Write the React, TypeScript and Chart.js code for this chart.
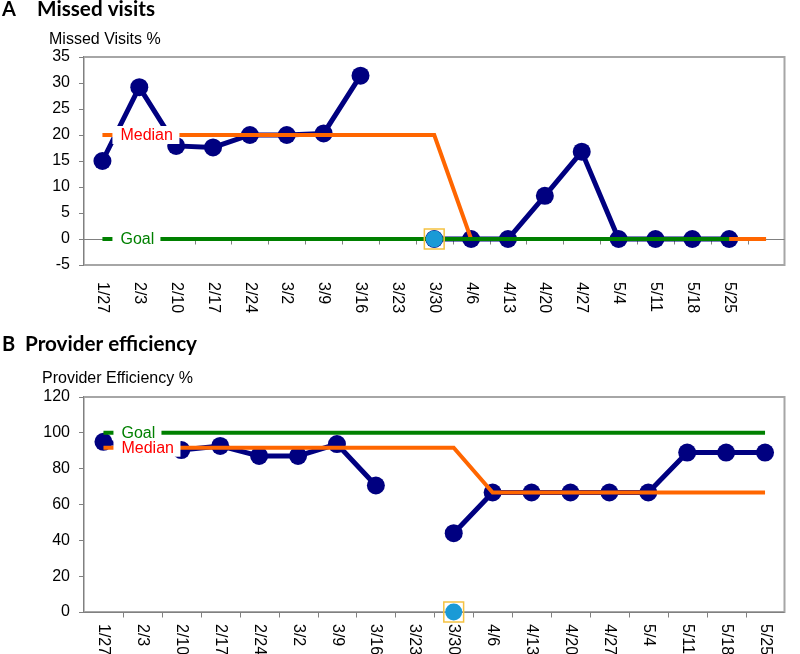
import React, { useEffect, useRef } from "react";
import { Chart, registerables } from "chart.js";
Chart.register(...registerables);

// ---------- Panel A: Missed visits ----------
const weeksA = ["1/27", "2/3", "2/10", "2/17", "2/24", "3/2", "3/9", "3/16", "3/23", "3/30", "4/6", "4/13", "4/20", "4/27", "5/4", "5/11", "5/18", "5/25", ""];
const missedVisits = [15, 29.2, 17.9, 17.6, 20, 20, 20.3, 31.4, null, 0, 0, 0, 8.3, 16.8, 0, 0, 0, 0, null];
const missedMedian = [20, 20, 20, 20, 20, 20, 20, 20, 20, 20, 0, 0, 0, 0, 0, 0, 0, 0, 0];
const missedGoal = [0, 0, 0, 0, 0, 0, 0, 0, 0, 0, 0, 0, 0, 0, 0, 0, 0, 0, null];
const missedEvent = [null, null, null, null, null, null, null, null, null, 0, null, null, null, null, null, null, null, null, null];
const missedTicks = [-5, 0, 5, 10, 15, 20, 25, 30, 35];

// ---------- Panel B: Provider efficiency ----------
const weeksB = ["1/27", "2/3", "2/10", "2/17", "2/24", "3/2", "3/9", "3/16", "3/23", "3/30", "4/6", "4/13", "4/20", "4/27", "5/4", "5/11", "5/18", "5/25"];
const efficiency = [95, 92, 90.4, 92.7, 87.1, 87.1, 93.7, 70.6, null, 44, 66.7, 66.7, 66.7, 66.7, 66.7, 89, 89, 89];
const effMedian = [91.7, 91.7, 91.7, 91.7, 91.7, 91.7, 91.7, 91.7, 91.7, 91.7, 66.7, 66.7, 66.7, 66.7, 66.7, 66.7, 66.7, 66.7];
const effGoal = [100, 100, 100, 100, 100, 100, 100, 100, 100, 100, 100, 100, 100, 100, 100, 100, 100, 100];
const effEvent = [null, null, null, null, null, null, null, null, null, 0, null, null, null, null, null, null, null, null];
const effTicks = [0, 20, 40, 60, 80, 100, 120];

const NAVY = "#000080";
const ORANGE = "#ff6600";
const GREEN = "#008000";
const ARIAL = '"Liberation Sans", Arial, sans-serif';
const TITLE_FONT = 'bold 20px Lato, "Open Sans", sans-serif';

type Tag = { text: string; color: string; value: number; boxW: number };
type DecorCfg = {
  labels: string[];
  labelGap: number;
  axisAt: number;
  tags: Tag[];
  letter: string;
  title: string;
  titleX: number;
  titleW: number;
  titleBaseline: number;
  yTitle: string;
  yTitleX: number;
  yTitleBaseline: number;
};

function decor(cfg: DecorCfg) {
  return {
    id: "decor",
    beforeDatasetsDraw(chart: any) {
      const { ctx, chartArea } = chart;
      const { left, right, top, bottom } = chartArea;
      const xs = chart.scales.x;
      const ys = chart.scales.y;
      ctx.save();
      ctx.strokeStyle = "#a6a6a6";
      ctx.lineWidth = 2;
      ctx.beginPath();
      ctx.moveTo(left, top);
      ctx.lineTo(right, top);
      ctx.lineTo(right, bottom);
      ctx.lineTo(left, bottom);
      ctx.stroke();
      const y0 = Math.round(ys.getPixelForValue(cfg.axisAt)) + 0.5;
      ctx.strokeStyle = "#808080";
      ctx.lineWidth = 1;
      ctx.beginPath();
      ctx.moveTo(left, y0);
      ctx.lineTo(right, y0);
      const n = cfg.labels.length;
      for (let i = 1; i < n; i++) {
        const bx = Math.round((xs.getPixelForValue(i - 1) + xs.getPixelForValue(i)) / 2) + 0.5;
        ctx.moveTo(bx, y0);
        ctx.lineTo(bx, y0 + 5);
      }
      ctx.stroke();
      ctx.restore();
    },
    afterDatasetsDraw(chart: any) {
      const { ctx } = chart;
      const xs = chart.scales.x;
      const ys = chart.scales.y;
      const x0 = xs.getPixelForValue(0);
      ctx.save();
      cfg.tags.forEach((t) => {
        const yy = ys.getPixelForValue(t.value);
        ctx.fillStyle = "#ffffff";
        ctx.fillRect(x0 + 10, yy - 9, t.boxW, 18);
      });
      ctx.font = "16px " + ARIAL;
      ctx.textBaseline = "middle";
      ctx.textAlign = "left";
      cfg.tags.forEach((t) => {
        const yy = ys.getPixelForValue(t.value);
        ctx.fillStyle = t.color;
        ctx.fillText(t.text, x0 + 18, yy + 1);
      });
      ctx.restore();
    },
    afterDraw(chart: any) {
      const { ctx, chartArea } = chart;
      const xs = chart.scales.x;
      ctx.save();
      ctx.fillStyle = "#000";
      ctx.font = "16px " + ARIAL;
      ctx.textAlign = "left";
      ctx.textBaseline = "middle";
      cfg.labels.forEach((l, i) => {
        if (!l) return;
        const xx = xs.getPixelForValue(i);
        ctx.save();
        ctx.translate(xx, chartArea.bottom + cfg.labelGap);
        ctx.rotate(Math.PI / 2);
        ctx.fillText(l, 0, 0);
        ctx.restore();
      });
      // axis title
      ctx.textBaseline = "alphabetic";
      ctx.fillText(cfg.yTitle, cfg.yTitleX, cfg.yTitleBaseline);
      // panel title
      ctx.font = TITLE_FONT;
      ctx.fillText(cfg.letter, 2, cfg.titleBaseline);
      const m = ctx.measureText(cfg.title).width;
      ctx.translate(cfg.titleX, cfg.titleBaseline);
      ctx.scale(cfg.titleW / m, 1);
      ctx.fillText(cfg.title, 0, 0);
      ctx.restore();
    },
  };
}

function buildChart(
  canvas: HTMLCanvasElement,
  labels: string[],
  main: (number | null)[],
  median: (number | null)[],
  goal: (number | null)[],
  event: (number | null)[],
  ticks: number[],
  padTop: number,
  xHeight: number,
  cfg: DecorCfg
) {
  return new Chart(canvas, {
    type: "line",
    data: {
      labels,
      datasets: [
        {
          data: event,
          showLine: false,
          pointStyle: "rect",
          pointRadius: 14,
          pointBackgroundColor: "rgba(0,0,0,0)",
          pointBorderColor: "#f5c242",
          pointBorderWidth: 1.5,
          order: 0,
          clip: false,
        } as any,
        {
          data: event,
          showLine: false,
          pointStyle: "circle",
          pointRadius: 8.5,
          pointBackgroundColor: "#1a9ad6",
          pointBorderWidth: 0,
          order: 1,
          clip: false,
        },
        { data: goal, borderColor: GREEN, borderWidth: 4, pointRadius: 0, order: 2, clip: false },
        { data: median, borderColor: ORANGE, borderWidth: 4, pointRadius: 0, order: 3, clip: false },
        {
          data: main,
          borderColor: NAVY,
          borderWidth: 5,
          pointRadius: 9,
          pointBackgroundColor: NAVY,
          pointBorderColor: NAVY,
          pointBorderWidth: 0,
          order: 4,
          clip: false,
        },
      ],
    },
    options: {
      animation: false,
      responsive: false,
      events: [],
      plugins: { legend: { display: false }, tooltip: { enabled: false } },
      layout: { padding: { top: padTop, right: 2, left: 0, bottom: 0 } },
      scales: {
        x: {
          type: "category",
          offset: true,
          grid: { display: false },
          border: { display: false },
          ticks: { display: false },
          afterFit: (s: any) => {
            s.height = xHeight;
          },
        },
        y: {
          min: ticks[0],
          max: ticks[ticks.length - 1],
          afterBuildTicks: (s: any) => {
            s.ticks = ticks.map((v) => ({ value: v }));
          },
          grid: { drawOnChartArea: false, color: "#808080", tickLength: 5 },
          border: { color: "#808080", width: 1.5 },
          ticks: { font: { family: ARIAL, size: 16 }, color: "#000", padding: 9 },
          afterFit: (s: any) => {
            s.width = 84;
          },
        },
      },
    } as any,
    plugins: [decor(cfg) as any],
  });
}

export default function App() {
  const refA = useRef<HTMLCanvasElement>(null);
  const refB = useRef<HTMLCanvasElement>(null);

  useEffect(() => {
    const a = buildChart(refA.current!, weeksA, missedVisits, missedMedian, missedGoal, missedEvent, missedTicks, 57, 55, {
      labels: weeksA,
      labelGap: 17,
      axisAt: 0,
      tags: [
        { text: "Median", color: "#ff0000", value: 20, boxW: 67 },
        { text: "Goal", color: GREEN, value: 0, boxW: 48 },
      ],
      letter: "A",
      title: "Missed visits",
      titleX: 37,
      titleW: 118,
      titleBaseline: 15.5,
      yTitle: "Missed Visits %",
      yTitleX: 49,
      yTitleBaseline: 44,
    });
    const b = buildChart(refB.current!, weeksB, efficiency, effMedian, effGoal, effEvent, effTicks, 77, 42, {
      labels: weeksB,
      labelGap: 12,
      axisAt: 0,
      tags: [
        { text: "Median", color: "#ff0000", value: 91.7, boxW: 67 },
        { text: "Goal", color: GREEN, value: 100, boxW: 48 },
      ],
      letter: "B",
      title: "Provider efficiency",
      titleX: 25,
      titleW: 172,
      titleBaseline: 31,
      yTitle: "Provider Efficiency %",
      yTitleX: 42,
      yTitleBaseline: 63,
    });
    return () => {
      a.destroy();
      b.destroy();
    };
  }, []);

  return (
    <div style={{ position: "absolute", left: 0, top: 0, width: 800, height: 654, background: "#fff", overflow: "hidden" }}>
      <canvas ref={refA} width={800} height={320} style={{ position: "absolute", left: 0, top: 0, display: "block" }} />
      <canvas ref={refB} width={800} height={334} style={{ position: "absolute", left: 0, top: 320, display: "block" }} />
    </div>
  );
}
